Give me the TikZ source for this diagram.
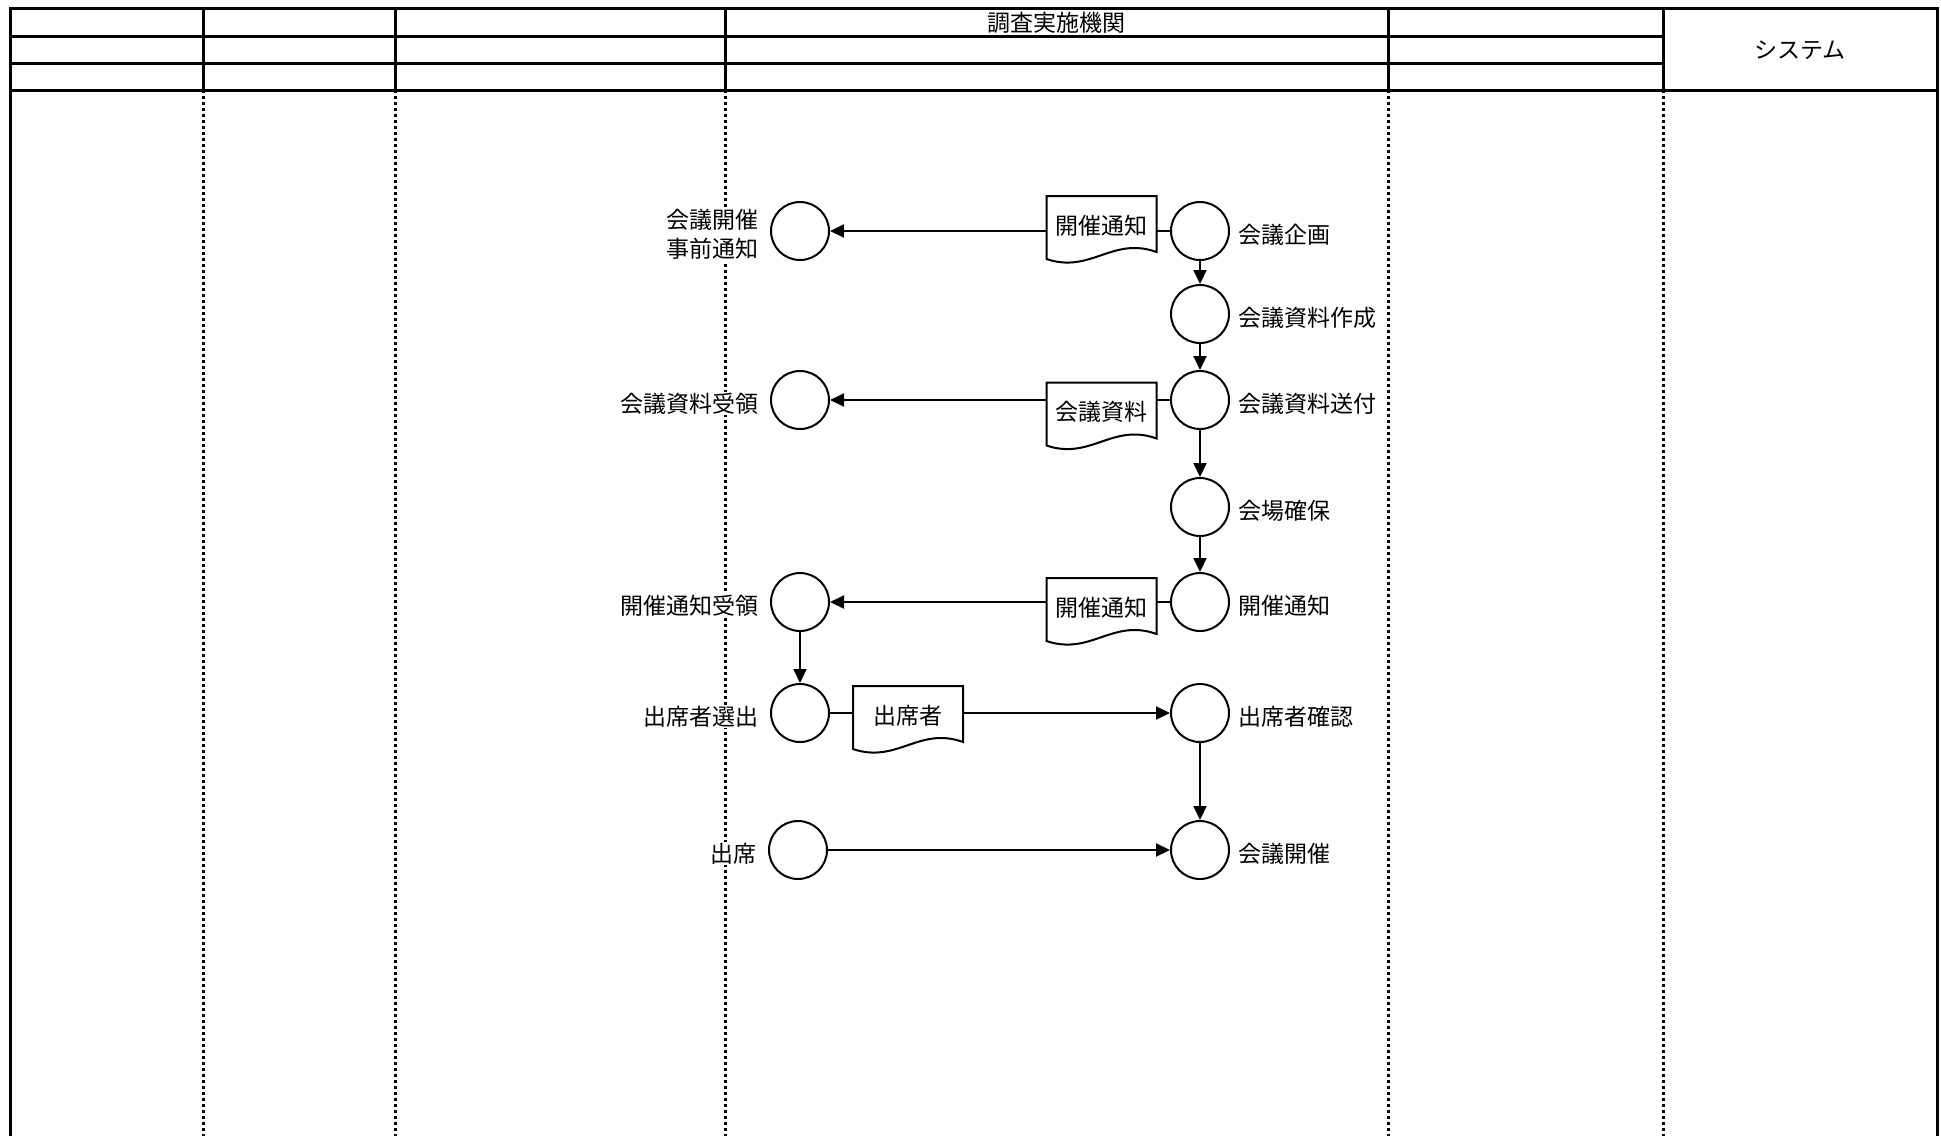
\documentclass[tikz,border=0pt]{standalone}
\usepackage{fontspec}
\newfontfamily\jpfont{Noto Sans CJK JP}
\usetikzlibrary{arrows.meta}

\begin{document}
\begin{tikzpicture}[x=1pt, y=-1pt,
    font=\jpfont\fontsize{23}{29}\selectfont,
    frame/.style={line width=3pt},
    lane/.style={line width=3pt, dash pattern=on 3pt off 3pt},
    proc/.style={circle, draw, line width=2pt, minimum size=58pt, inner sep=0pt},
    lbl/.style={fill=white, inner sep=1pt, align=right, yshift=-3.5pt},
    docu/.style={minimum width=110pt, minimum height=59pt, inner sep=0pt, outer sep=0pt,
      append after command={\pgfextra{
        \draw[line width=2pt] (\tikzlastnode.north west) -- (\tikzlastnode.north east)
          -- ([yshift=3pt]\tikzlastnode.south east)
          .. controls ([xshift=-44pt,yshift=19pt]\tikzlastnode.south east)
          and ([xshift=44pt,yshift=-19pt]\tikzlastnode.south west)
          .. ([yshift=-4pt]\tikzlastnode.south west) -- cycle;}}},
    link/.style={line width=2pt},
    arr/.style={-{Triangle[length=14pt,width=13pt]}, line width=2pt}
  ]
    \useasboundingbox (0,0) rectangle (1941,1136);

    % swimlane frame
    \draw[frame] (10,1136) -- (10,8.7) -- (1937,8.7) -- (1937,1136);
    \draw[frame] (10,90) -- (1937,90);
    \draw[frame] (10,36) -- (1663,36);
    \draw[frame] (10,63) -- (1663,63);
    \foreach \x in {203,395,725,1388,1663} {
      \draw[frame] (\x,8.7) -- (\x,90);
      \draw[lane] (\x,90) -- (\x,1136);
    }
    \node (hdorg) at (1056.5,23) {調査実施機関};
    \node (hdsys) at (1800,50) {システム};

    % processes
    \node[proc, label={[lbl, label distance=7pt]right:会議企画}]     (kikaku)  at (1200,231) {};
    \node[proc, label={[lbl, label distance=7pt]right:会議資料作成}] (sakusei) at (1200,314) {};
    \node[proc, label={[lbl, label distance=7pt]right:会議資料送付}] (sofu)    at (1200,400) {};
    \node[proc, label={[lbl, label distance=7pt]right:会場確保}]     (kaijo)   at (1200,507) {};
    \node[proc, label={[lbl, label distance=7pt]right:開催通知}]     (tsuchi)  at (1200,602) {};
    \node[proc, label={[lbl, label distance=7pt]right:出席者確認}]   (kakunin) at (1200,713) {};
    \node[proc, label={[lbl, label distance=7pt]right:会議開催}]     (kaisai)  at (1200,850) {};

    \node[proc, label={[lbl, label distance=10pt]left:会議開催\\事前通知}] (jizen)    at (800,231) {};
    \node[proc, label={[lbl, label distance=10pt]left:会議資料受領}]       (juryo)    at (800,400) {};
    \node[proc, label={[lbl, label distance=10pt]left:開催通知受領}]       (tjuryo)   at (800,602) {};
    \node[proc, label={[lbl, label distance=10pt]left:出席者選出}]         (sentei)   at (800,713) {};
    \node[proc, label={[lbl, label distance=10pt]left:出席}]               (shusseki) at (798,850) {};

    % documents
    \node[docu] (dtsuchi1)  at (1101.5,225.5) {開催通知};
    \node[docu] (dshiryo)   at (1101.5,412)   {会議資料};
    \node[docu] (dtsuchi2)  at (1101.5,607.5) {開催通知};
    \node[docu] (dshusseki) at (908,715.5)    {出席者};

    \draw[link] (kikaku.west) -- (kikaku.west -| dtsuchi1.east);
    \draw[arr] (kikaku.west -| dtsuchi1.west) -- (jizen.east);
    \draw[arr] (kikaku) -- (sakusei);
    \draw[arr] (sakusei) -- (sofu);
    \draw[link] (sofu.west) -- (sofu.west -| dshiryo.east);
    \draw[arr] (sofu.west -| dshiryo.west) -- (juryo.east);
    \draw[arr] (sofu) -- (kaijo);
    \draw[arr] (kaijo) -- (tsuchi);
    \draw[link] (tsuchi.west) -- (tsuchi.west -| dtsuchi2.east);
    \draw[arr] (tsuchi.west -| dtsuchi2.west) -- (tjuryo.east);
    \draw[arr] (tjuryo) -- (sentei);
    \draw[link] (sentei.east) -- (sentei.east -| dshusseki.west);
    \draw[arr] (sentei.east -| dshusseki.east) -- (kakunin.west);
    \draw[arr] (kakunin) -- (kaisai);
    \draw[arr] (shusseki) -- (kaisai);
  \end{tikzpicture}
\end{document}
